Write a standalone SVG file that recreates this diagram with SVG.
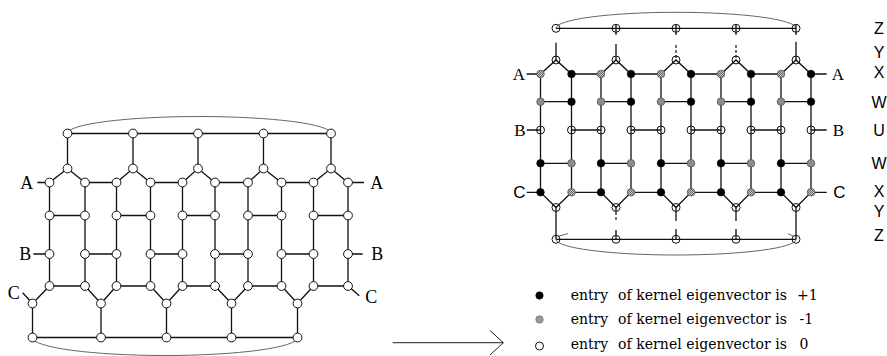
<svg xmlns="http://www.w3.org/2000/svg" width="887" height="356" viewBox="0 0 887 356">
<style>
.e{fill:none;stroke:#111;stroke-width:1.3;stroke-linecap:butt}
.el{fill:none;stroke:#555;stroke-width:0.9}
.d{fill:none;stroke:#111;stroke-width:1.2;stroke-dasharray:3 2}
.lo{fill:#fff;stroke:#111;stroke-width:1}
.ro{fill:none;stroke:#111;stroke-width:1}
.rb{fill:#000;stroke:#000;stroke-width:0.6}
.rg{fill:#8c8c8c;stroke:#555;stroke-width:0.8}
.rh{fill:url(#hatch);stroke:#555;stroke-width:0.8}
.ts{font-family:"Liberation Serif","Times New Roman",serif;font-size:18px;fill:#000;text-anchor:middle}
.tr{font-family:"Liberation Serif","Times New Roman",serif;font-size:17px;fill:#000;text-anchor:middle}
.tc{font-family:"Liberation Sans",Arial,sans-serif;font-size:17px;fill:#000;text-anchor:middle}
.tz{font-family:"Liberation Sans",Arial,sans-serif;font-size:16px;fill:#000;text-anchor:middle}
.lg{font-family:"DejaVu Serif",serif;font-size:14px;fill:#000}
</style>
<defs>
<pattern id="hatch" width="2" height="2" patternUnits="userSpaceOnUse">
<rect width="2" height="2" fill="#c4c4c4"/>
<rect width="1" height="1" fill="#666"/>
<rect x="1" y="1" width="1" height="1" fill="#666"/>
</pattern>
</defs>

<g id="connectors">
<!-- left graph -->
<path class="el" d="M67.5 133.5 A131.75 17 0 0 1 331 133.5"/>
<path class="e" d="M67.5 133.5 H331"/>
<path class="e" d="M67.5 133.5 V168.5 M133 133.5 V168.5 M198 133.5 V168.5 M263.5 133.5 V168.5 M331 133.5 V168.5"/>
<path class="e" d="M37.3 182.5 H49.5 L67.5 168.5 L85 182.5 H116.5 L133 168.5 L150.5 182.5 H182.5 L198 168.5 L215 182.5 H248 L263.5 168.5 L281.5 182.5 H313.5 L331 168.5 L348 182.5 H364"/>
<path class="e" d="M49.5 182.5 V286 M85 182.5 V286 M116.5 182.5 V286 M150.5 182.5 V286 M182.5 182.5 V286 M215 182.5 V286 M248 182.5 V286 M281.5 182.5 V286 M313.5 182.5 V286 M348 182.5 V286"/>
<path class="e" d="M49.5 215.5 H85 M116.5 215.5 H150.5 M182.5 215.5 H215 M248 215.5 H281.5 M313.5 215.5 H348"/>
<path class="e" d="M33.3 254 H49.5 M85 254 H116.5 M150.5 254 H182.5 M215 254 H248 M281.5 254 H313.5 M348 254 H362.7"/>
<path class="e" d="M22.7 292.7 L32.5 303.5 L49.5 286 H85 L101 303.5 L116.5 286 H150.5 L166.5 303.5 L182.5 286 H215 L231.5 303.5 L248 286 H281.5 L297.5 303.5 L313.5 286 H348 L359.3 295.7"/>
<path class="e" d="M32.5 303.5 V337.5 M101 303.5 V337.5 M166.5 303.5 V337.5 M231.5 303.5 V337.5 M297.5 303.5 V337.5"/>
<path class="e" d="M32.5 337.5 H297.5"/>
<path class="el" d="M32.5 337.5 A132.5 18 0 0 0 297.5 337.5"/>
<!-- arrow -->
<path fill="none" stroke="#222" stroke-width="1" d="M392.7 342.7 H503.3 M490 330.5 L503.3 342.7 L490 355"/>
<!-- right graph -->
<path class="el" d="M556 28.3 A120 16 0 0 1 796 28.3"/>
<path class="e" d="M556 28.3 H796"/>
<path class="e" d="M616 24.5 V35 M676 24.5 V35 M736 24.5 V35 M796 24.5 V35"/>
<path class="e" d="M556 42.7 V60 M616 44 V60 M796 41.7 V60"/>
<path class="d" d="M676 45 V60 M736 45 V60"/>
<path class="e" d="M526.7 74 H540.5 L556 60 L571.5 74 H601 L616 60 L631 74 H661 L676 60 L691 74 H721 L736 60 L751 74 H781 L796 60 L811 74 H826.7"/>
<path class="e" d="M540.5 74 V192.3 M571.5 74 V192.3 M601 74 V192.3 M631 74 V192.3 M661 74 V192.3 M691 74 V192.3 M721 74 V192.3 M751 74 V192.3 M781 74 V192.3 M811 74 V192.3"/>
<path class="e" d="M540.5 101.7 H571.5 M601 101.7 H631 M661 101.7 H691 M721 101.7 H751 M781 101.7 H811"/>
<path class="e" d="M526.7 130 H540.5 M571.5 130 H601 M631 130 H661 M691 130 H721 M751 130 H781 M811 130 H826.7"/>
<path class="e" d="M540.5 163.3 H571.5 M601 163.3 H631 M661 163.3 H691 M721 163.3 H751 M781 163.3 H811"/>
<path class="e" d="M526.7 192.3 H540.5 L556 207.5 L571.5 192.3 H601 L616 207.5 L631 192.3 H661 L676 207.5 L691 192.3 H721 L736 207.5 L751 192.3 H781 L796 207.5 L811 192.3 H826.7"/>
<path class="e" d="M556 207.5 V239.3 M796 207.5 V239.3 M676 207.5 V221 M736 207.5 V221 M616 207.5 V211 M616 230 V239.3 M676 229 V239.3 M736 229 V239.3"/>
<path class="d" d="M616 212 V222"/>
<path class="e" d="M556 239.3 H796"/>
<path class="el" d="M556 239.3 A120 15.7 0 0 0 796 239.3"/>
<path class="el" d="M558 236.5 L568 233.5 M788 233.8 L793 236"/>
</g>

<!-- left graph nodes -->
<g id="L-T0"><circle class="lo" cx="67.5" cy="133.5" r="4.4"/></g>
<g id="L-T1"><circle class="lo" cx="133" cy="133.5" r="4.4"/></g>
<g id="L-T2"><circle class="lo" cx="198" cy="133.5" r="4.4"/></g>
<g id="L-T3"><circle class="lo" cx="263.5" cy="133.5" r="4.4"/></g>
<g id="L-T4"><circle class="lo" cx="331" cy="133.5" r="4.4"/></g>
<g id="L-P0"><circle class="lo" cx="67.5" cy="168.5" r="4.4"/></g>
<g id="L-P1"><circle class="lo" cx="133" cy="168.5" r="4.4"/></g>
<g id="L-P2"><circle class="lo" cx="198" cy="168.5" r="4.4"/></g>
<g id="L-P3"><circle class="lo" cx="263.5" cy="168.5" r="4.4"/></g>
<g id="L-P4"><circle class="lo" cx="331" cy="168.5" r="4.4"/></g>
<g id="L-A0"><circle class="lo" cx="49.5" cy="182.5" r="4.4"/></g>
<g id="L-A1"><circle class="lo" cx="85" cy="182.5" r="4.4"/></g>
<g id="L-A2"><circle class="lo" cx="116.5" cy="182.5" r="4.4"/></g>
<g id="L-A3"><circle class="lo" cx="150.5" cy="182.5" r="4.4"/></g>
<g id="L-A4"><circle class="lo" cx="182.5" cy="182.5" r="4.4"/></g>
<g id="L-A5"><circle class="lo" cx="215" cy="182.5" r="4.4"/></g>
<g id="L-A6"><circle class="lo" cx="248" cy="182.5" r="4.4"/></g>
<g id="L-A7"><circle class="lo" cx="281.5" cy="182.5" r="4.4"/></g>
<g id="L-A8"><circle class="lo" cx="313.5" cy="182.5" r="4.4"/></g>
<g id="L-A9"><circle class="lo" cx="348" cy="182.5" r="4.4"/></g>
<g id="L-R0"><circle class="lo" cx="49.5" cy="215.5" r="4.4"/></g>
<g id="L-R1"><circle class="lo" cx="85" cy="215.5" r="4.4"/></g>
<g id="L-R2"><circle class="lo" cx="116.5" cy="215.5" r="4.4"/></g>
<g id="L-R3"><circle class="lo" cx="150.5" cy="215.5" r="4.4"/></g>
<g id="L-R4"><circle class="lo" cx="182.5" cy="215.5" r="4.4"/></g>
<g id="L-R5"><circle class="lo" cx="215" cy="215.5" r="4.4"/></g>
<g id="L-R6"><circle class="lo" cx="248" cy="215.5" r="4.4"/></g>
<g id="L-R7"><circle class="lo" cx="281.5" cy="215.5" r="4.4"/></g>
<g id="L-R8"><circle class="lo" cx="313.5" cy="215.5" r="4.4"/></g>
<g id="L-R9"><circle class="lo" cx="348" cy="215.5" r="4.4"/></g>
<g id="L-B0"><circle class="lo" cx="49.5" cy="254" r="4.4"/></g>
<g id="L-B1"><circle class="lo" cx="85" cy="254" r="4.4"/></g>
<g id="L-B2"><circle class="lo" cx="116.5" cy="254" r="4.4"/></g>
<g id="L-B3"><circle class="lo" cx="150.5" cy="254" r="4.4"/></g>
<g id="L-B4"><circle class="lo" cx="182.5" cy="254" r="4.4"/></g>
<g id="L-B5"><circle class="lo" cx="215" cy="254" r="4.4"/></g>
<g id="L-B6"><circle class="lo" cx="248" cy="254" r="4.4"/></g>
<g id="L-B7"><circle class="lo" cx="281.5" cy="254" r="4.4"/></g>
<g id="L-B8"><circle class="lo" cx="313.5" cy="254" r="4.4"/></g>
<g id="L-B9"><circle class="lo" cx="348" cy="254" r="4.4"/></g>
<g id="L-C0"><circle class="lo" cx="49.5" cy="286" r="4.4"/></g>
<g id="L-C1"><circle class="lo" cx="85" cy="286" r="4.4"/></g>
<g id="L-C2"><circle class="lo" cx="116.5" cy="286" r="4.4"/></g>
<g id="L-C3"><circle class="lo" cx="150.5" cy="286" r="4.4"/></g>
<g id="L-C4"><circle class="lo" cx="182.5" cy="286" r="4.4"/></g>
<g id="L-C5"><circle class="lo" cx="215" cy="286" r="4.4"/></g>
<g id="L-C6"><circle class="lo" cx="248" cy="286" r="4.4"/></g>
<g id="L-C7"><circle class="lo" cx="281.5" cy="286" r="4.4"/></g>
<g id="L-C8"><circle class="lo" cx="313.5" cy="286" r="4.4"/></g>
<g id="L-C9"><circle class="lo" cx="348" cy="286" r="4.4"/></g>
<g id="L-V0"><circle class="lo" cx="32.5" cy="303.5" r="4.4"/></g>
<g id="L-V1"><circle class="lo" cx="101" cy="303.5" r="4.4"/></g>
<g id="L-V2"><circle class="lo" cx="166.5" cy="303.5" r="4.4"/></g>
<g id="L-V3"><circle class="lo" cx="231.5" cy="303.5" r="4.4"/></g>
<g id="L-V4"><circle class="lo" cx="297.5" cy="303.5" r="4.4"/></g>
<g id="L-Z0"><circle class="lo" cx="32.5" cy="337.5" r="4.4"/></g>
<g id="L-Z1"><circle class="lo" cx="101" cy="337.5" r="4.4"/></g>
<g id="L-Z2"><circle class="lo" cx="166.5" cy="337.5" r="4.4"/></g>
<g id="L-Z3"><circle class="lo" cx="231.5" cy="337.5" r="4.4"/></g>
<g id="L-Z4"><circle class="lo" cx="297.5" cy="337.5" r="4.4"/></g>

<g id="L-labels">
<text class="ts" x="26.7" y="188.8">A</text>
<text class="ts" x="376.7" y="188.8">A</text>
<text class="ts" x="25.3" y="260.3">B</text>
<text class="ts" x="377.2" y="260.3">B</text>
<text class="ts" x="13.8" y="299">C</text>
<text class="ts" x="371.3" y="303">C</text>
</g>

<!-- right graph nodes -->
<g id="R-T0"><circle class="ro" cx="556" cy="28.3" r="4"/></g>
<g id="R-T1"><circle class="ro" cx="616" cy="28.3" r="4"/></g>
<g id="R-T2"><circle class="ro" cx="676" cy="28.3" r="4"/></g>
<g id="R-T3"><circle class="ro" cx="736" cy="28.3" r="4"/></g>
<g id="R-T4"><circle class="ro" cx="796" cy="28.3" r="4"/></g>
<g id="R-P0"><circle class="ro" cx="556" cy="60" r="4"/></g>
<g id="R-P1"><circle class="ro" cx="616" cy="60" r="4"/></g>
<g id="R-P2"><circle class="ro" cx="676" cy="60" r="4"/></g>
<g id="R-P3"><circle class="ro" cx="736" cy="60" r="4"/></g>
<g id="R-P4"><circle class="ro" cx="796" cy="60" r="4"/></g>
<g id="R-A0"><circle class="rh" cx="540.5" cy="74" r="3.8"/></g>
<g id="R-A1"><circle class="rb" cx="571.5" cy="74" r="3.8"/></g>
<g id="R-A2"><circle class="rh" cx="601" cy="74" r="3.8"/></g>
<g id="R-A3"><circle class="rb" cx="631" cy="74" r="3.8"/></g>
<g id="R-A4"><circle class="rh" cx="661" cy="74" r="3.8"/></g>
<g id="R-A5"><circle class="rb" cx="691" cy="74" r="3.8"/></g>
<g id="R-A6"><circle class="rh" cx="721" cy="74" r="3.8"/></g>
<g id="R-A7"><circle class="rb" cx="751" cy="74" r="3.8"/></g>
<g id="R-A8"><circle class="rh" cx="781" cy="74" r="3.8"/></g>
<g id="R-A9"><circle class="rb" cx="811" cy="74" r="3.8"/></g>
<g id="R-W0"><circle class="rg" cx="540.5" cy="101.7" r="3.8"/></g>
<g id="R-W1"><circle class="rb" cx="571.5" cy="101.7" r="3.8"/></g>
<g id="R-W2"><circle class="rg" cx="601" cy="101.7" r="3.8"/></g>
<g id="R-W3"><circle class="rb" cx="631" cy="101.7" r="3.8"/></g>
<g id="R-W4"><circle class="rg" cx="661" cy="101.7" r="3.8"/></g>
<g id="R-W5"><circle class="rb" cx="691" cy="101.7" r="3.8"/></g>
<g id="R-W6"><circle class="rg" cx="721" cy="101.7" r="3.8"/></g>
<g id="R-W7"><circle class="rb" cx="751" cy="101.7" r="3.8"/></g>
<g id="R-W8"><circle class="rg" cx="781" cy="101.7" r="3.8"/></g>
<g id="R-W9"><circle class="rb" cx="811" cy="101.7" r="3.8"/></g>
<g id="R-B0"><circle class="ro" cx="540.5" cy="130" r="4"/></g>
<g id="R-B1"><circle class="ro" cx="571.5" cy="130" r="4"/></g>
<g id="R-B2"><circle class="ro" cx="601" cy="130" r="4"/></g>
<g id="R-B3"><circle class="ro" cx="631" cy="130" r="4"/></g>
<g id="R-B4"><circle class="ro" cx="661" cy="130" r="4"/></g>
<g id="R-B5"><circle class="ro" cx="691" cy="130" r="4"/></g>
<g id="R-B6"><circle class="ro" cx="721" cy="130" r="4"/></g>
<g id="R-B7"><circle class="ro" cx="751" cy="130" r="4"/></g>
<g id="R-B8"><circle class="ro" cx="781" cy="130" r="4"/></g>
<g id="R-B9"><circle class="ro" cx="811" cy="130" r="4"/></g>
<g id="R-X0"><circle class="rb" cx="540.5" cy="163.3" r="3.8"/></g>
<g id="R-X1"><circle class="rg" cx="571.5" cy="163.3" r="3.8"/></g>
<g id="R-X2"><circle class="rb" cx="601" cy="163.3" r="3.8"/></g>
<g id="R-X3"><circle class="rg" cx="631" cy="163.3" r="3.8"/></g>
<g id="R-X4"><circle class="rb" cx="661" cy="163.3" r="3.8"/></g>
<g id="R-X5"><circle class="rg" cx="691" cy="163.3" r="3.8"/></g>
<g id="R-X6"><circle class="rb" cx="721" cy="163.3" r="3.8"/></g>
<g id="R-X7"><circle class="rg" cx="751" cy="163.3" r="3.8"/></g>
<g id="R-X8"><circle class="rb" cx="781" cy="163.3" r="3.8"/></g>
<g id="R-X9"><circle class="rg" cx="811" cy="163.3" r="3.8"/></g>
<g id="R-C0"><circle class="rb" cx="540.5" cy="192.3" r="3.8"/></g>
<g id="R-C1"><circle class="rh" cx="571.5" cy="192.3" r="3.8"/></g>
<g id="R-C2"><circle class="rb" cx="601" cy="192.3" r="3.8"/></g>
<g id="R-C3"><circle class="rh" cx="631" cy="192.3" r="3.8"/></g>
<g id="R-C4"><circle class="rb" cx="661" cy="192.3" r="3.8"/></g>
<g id="R-C5"><circle class="rh" cx="691" cy="192.3" r="3.8"/></g>
<g id="R-C6"><circle class="rb" cx="721" cy="192.3" r="3.8"/></g>
<g id="R-C7"><circle class="rh" cx="751" cy="192.3" r="3.8"/></g>
<g id="R-C8"><circle class="rb" cx="781" cy="192.3" r="3.8"/></g>
<g id="R-C9"><circle class="rh" cx="811" cy="192.3" r="3.8"/></g>
<g id="R-V0"><circle class="ro" cx="556" cy="207.5" r="4"/></g>
<g id="R-V1"><circle class="ro" cx="616" cy="207.5" r="4"/></g>
<g id="R-V2"><circle class="ro" cx="676" cy="207.5" r="4"/></g>
<g id="R-V3"><circle class="ro" cx="736" cy="207.5" r="4"/></g>
<g id="R-V4"><circle class="ro" cx="796" cy="207.5" r="4"/></g>
<g id="R-Z0"><circle class="ro" cx="556" cy="239.3" r="4"/></g>
<g id="R-Z1"><circle class="ro" cx="616" cy="239.3" r="4"/></g>
<g id="R-Z2"><circle class="ro" cx="676" cy="239.3" r="4"/></g>
<g id="R-Z3"><circle class="ro" cx="736" cy="239.3" r="4"/></g>
<g id="R-Z4"><circle class="ro" cx="796" cy="239.3" r="4"/></g>

<g id="R-labels">
<text class="tr" x="518.8" y="80">A</text>
<text class="tr" x="838" y="80">A</text>
<text class="tr" x="520" y="136">B</text>
<text class="tr" x="838.3" y="136">B</text>
<text class="tc" x="519.5" y="198.3">C</text>
<text class="tc" x="839.5" y="198.3">C</text>
</g>

<g id="row-labels">
<text class="tz" x="879" y="34">Z</text>
<text class="tz" x="879" y="57.5">Y</text>
<text class="tz" x="879" y="77.5">X</text>
<text class="tz" x="879" y="107.5">W</text>
<text class="tz" x="879" y="135.8">U</text>
<text class="tz" x="879" y="169">W</text>
<text class="tz" x="879" y="196.5">X</text>
<text class="tz" x="879" y="216.5">Y</text>
<text class="tz" x="879" y="240.8">Z</text>
</g>

<g id="legend">
<circle class="rb" cx="539.5" cy="295.5" r="3.7"/>
<circle fill="#999" stroke="#777" stroke-width="0.8" cx="539.5" cy="319.5" r="3.7"/>
<circle class="ro" cx="539.5" cy="346" r="4"/>
<text class="lg" x="570.7" y="299.5">entry</text>
<text class="lg" x="618" y="299.5" textLength="169" lengthAdjust="spacing">of kernel eigenvector is</text>
<text class="lg" x="797" y="299.5">+1</text>
<text class="lg" x="570.7" y="323.5">entry</text>
<text class="lg" x="618" y="323.5" textLength="169" lengthAdjust="spacing">of kernel eigenvector is</text>
<text class="lg" x="799.5" y="323.5">-1</text>
<text class="lg" x="570.7" y="349">entry</text>
<text class="lg" x="618" y="349" textLength="169" lengthAdjust="spacing">of kernel eigenvector is</text>
<text class="lg" x="799.5" y="349">0</text>
</g>
</svg>
